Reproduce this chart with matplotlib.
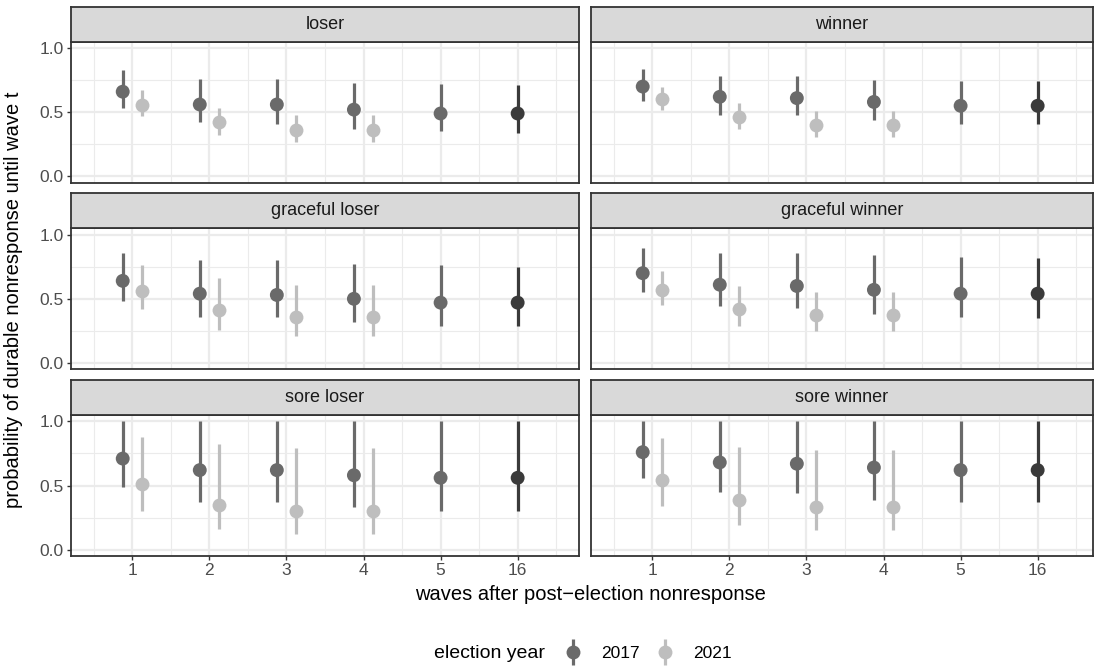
import numpy as np
import matplotlib.pyplot as plt
from matplotlib.lines import Line2D
from matplotlib.legend_handler import HandlerTuple

plt.rcParams['font.family'] = ['Liberation Sans', 'DejaVu Sans']

panels = ['loser', 'winner', 'graceful loser', 'graceful winner', 'sore loser', 'sore winner']
wave_labels = ['1', '2', '3', '4', '5', '16']
years = ['2017', '2021']

# 2017: waves 1, 2, 3, 4, 5, 16
est_2017 = {
    'loser':           [0.66, 0.56, 0.56, 0.52, 0.49, 0.49],
    'winner':          [0.70, 0.62, 0.61, 0.58, 0.55, 0.55],
    'graceful loser':  [0.64, 0.54, 0.53, 0.50, 0.47, 0.47],
    'graceful winner': [0.70, 0.61, 0.60, 0.57, 0.54, 0.54],
    'sore loser':      [0.71, 0.62, 0.62, 0.58, 0.56, 0.56],
    'sore winner':     [0.76, 0.68, 0.67, 0.64, 0.62, 0.62],
}
lo_2017 = {
    'loser':           [0.53, 0.42, 0.41, 0.37, 0.35, 0.34],
    'winner':          [0.59, 0.48, 0.48, 0.44, 0.41, 0.41],
    'graceful loser':  [0.48, 0.36, 0.36, 0.32, 0.29, 0.29],
    'graceful winner': [0.55, 0.44, 0.43, 0.38, 0.36, 0.35],
    'sore loser':      [0.49, 0.37, 0.37, 0.33, 0.30, 0.30],
    'sore winner':     [0.56, 0.45, 0.44, 0.39, 0.37, 0.37],
}
hi_2017 = {
    'loser':           [0.83, 0.76, 0.76, 0.73, 0.72, 0.71],
    'winner':          [0.84, 0.78, 0.78, 0.75, 0.74, 0.74],
    'graceful loser':  [0.86, 0.80, 0.80, 0.77, 0.76, 0.75],
    'graceful winner': [0.90, 0.86, 0.86, 0.84, 0.83, 0.82],
    'sore loser':      [1.00, 1.00, 1.00, 1.00, 1.00, 1.00],
    'sore winner':     [1.00, 1.00, 1.00, 1.00, 1.00, 1.00],
}
# 2021: waves 1, 2, 3, 4
est_2021 = {
    'loser':           [0.56, 0.42, 0.36, 0.36],
    'winner':          [0.60, 0.46, 0.40, 0.40],
    'graceful loser':  [0.56, 0.41, 0.36, 0.36],
    'graceful winner': [0.57, 0.42, 0.37, 0.37],
    'sore loser':      [0.51, 0.35, 0.30, 0.30],
    'sore winner':     [0.54, 0.39, 0.33, 0.33],
}
lo_2021 = {
    'loser':           [0.47, 0.32, 0.27, 0.27],
    'winner':          [0.52, 0.37, 0.31, 0.31],
    'graceful loser':  [0.42, 0.26, 0.21, 0.21],
    'graceful winner': [0.45, 0.29, 0.25, 0.25],
    'sore loser':      [0.30, 0.16, 0.12, 0.12],
    'sore winner':     [0.34, 0.19, 0.15, 0.15],
}
hi_2021 = {
    'loser':           [0.67, 0.53, 0.48, 0.48],
    'winner':          [0.70, 0.57, 0.51, 0.51],
    'graceful loser':  [0.76, 0.66, 0.61, 0.61],
    'graceful winner': [0.72, 0.60, 0.55, 0.55],
    'sore loser':      [0.88, 0.82, 0.79, 0.79],
    'sore winner':     [0.87, 0.80, 0.78, 0.78],
}

W, H = 1094, 668
col_left = [70.7, 590.7]
col_width = [508.6, 502.6]
col_xmax = [6.8, 6.722]
row_top = [41.7, 228.3, 415.0]
panel_h = 141.0
strip_h = 35.0

col_2017 = '#6a6a6a'
col_2017_last = '#3a3a3a'
col_2021 = '#bebebe'
dodge = 0.125
small = 12.5
title = 14.5


def rect(x, y, w, h):
    return [x / W, 1 - (y + h) / H, w / W, h / H]


def draw_panel(ax, name, show_x, show_y, xmax):
    pos = np.arange(1, len(wave_labels) + 1)
    n21 = len(est_2021[name])
    x17 = pos - np.where(pos <= n21, dodge, 0.0)
    x21 = pos[:n21] + dodge
    c17 = [col_2017] * (len(pos) - 1) + [col_2017_last]

    ax.vlines(x17, lo_2017[name], hi_2017[name], colors=c17, lw=2.3, zorder=3)
    ax.scatter(x17, est_2017[name], s=100, c=c17, lw=0, zorder=4)
    ax.vlines(x21, lo_2021[name], hi_2021[name], colors=col_2021, lw=2.3, zorder=3)
    ax.scatter(x21, est_2021[name], s=100, c=col_2021, lw=0, zorder=4)

    ax.set_xlim(0.2, xmax)
    ax.set_ylim(-0.05, 1.05)
    ax.set_xticks(pos)
    ax.set_xticks(np.arange(0.5, 7, 1.0), minor=True)
    ax.set_yticks([0, 0.5, 1.0])
    ax.set_yticks([0.25, 0.75], minor=True)
    ax.set_xticklabels(wave_labels if show_x else [])
    ax.set_yticklabels(['0.0', '0.5', '1.0'] if show_y else [])
    ax.grid(which='major', color='#ebebeb', lw=1.6)
    ax.grid(which='minor', color='#ebebeb', lw=0.8)
    ax.set_axisbelow(True)
    ax.tick_params(which='major', length=3.2, width=1.0, color='#333333',
                   labelsize=small, labelcolor='#4d4d4d', pad=2.0,
                   bottom=show_x, left=show_y)
    ax.tick_params(which='minor', length=0)
    for s in ax.spines.values():
        s.set_color('#333333')
        s.set_linewidth(1.3)


fig = plt.figure(figsize=(W / 100, H / 100), dpi=100)

for i, name in enumerate(panels):
    r, c = divmod(i, 2)
    ax = fig.add_axes(rect(col_left[c], row_top[r], col_width[c], panel_h))
    draw_panel(ax, name, show_x=(r == 2), show_y=(c == 0), xmax=col_xmax[c])

    sax = fig.add_axes(rect(col_left[c], row_top[r] - strip_h, col_width[c], strip_h))
    sax.set_facecolor('#d9d9d9')
    sax.set_xticks([])
    sax.set_yticks([])
    for s in sax.spines.values():
        s.set_color('#333333')
        s.set_linewidth(1.3)
    sax.text(0.5, 0.5, name, transform=sax.transAxes, ha='center', va='center',
             fontsize=small + 0.5, color='#1a1a1a')

fig.text(14 / W, 1 - 300 / H, 'probability of durable nonresponse until wave t',
         rotation=90, ha='center', va='center', fontsize=title)
fig.text(590 / W, 1 - 595 / H, 'waves after post\u2212election nonresponse',
         ha='center', va='center', fontsize=title)

handles = []
for c in [col_2017, col_2021]:
    bar = Line2D([], [], marker='|', ms=19, mew=2.3, color=c, ls='none')
    dot = Line2D([], [], marker='o', ms=10, mew=0, color=c, ls='none')
    handles.append((bar, dot))
fig.text(545 / W, 1 - 653 / H, 'election year', ha='right', va='center', fontsize=title - 0.5)
fig.legend(handles, years, handler_map={tuple: HandlerTuple(ndivide=1)},
           loc='center left', bbox_to_anchor=(562.6 / W, 1 - 653 / H),
           ncol=2, frameon=False, fontsize=small, borderpad=0, borderaxespad=0,
           handlelength=1.2, handletextpad=1.0, columnspacing=0.9)

fig.savefig('out.png', dpi=100)
